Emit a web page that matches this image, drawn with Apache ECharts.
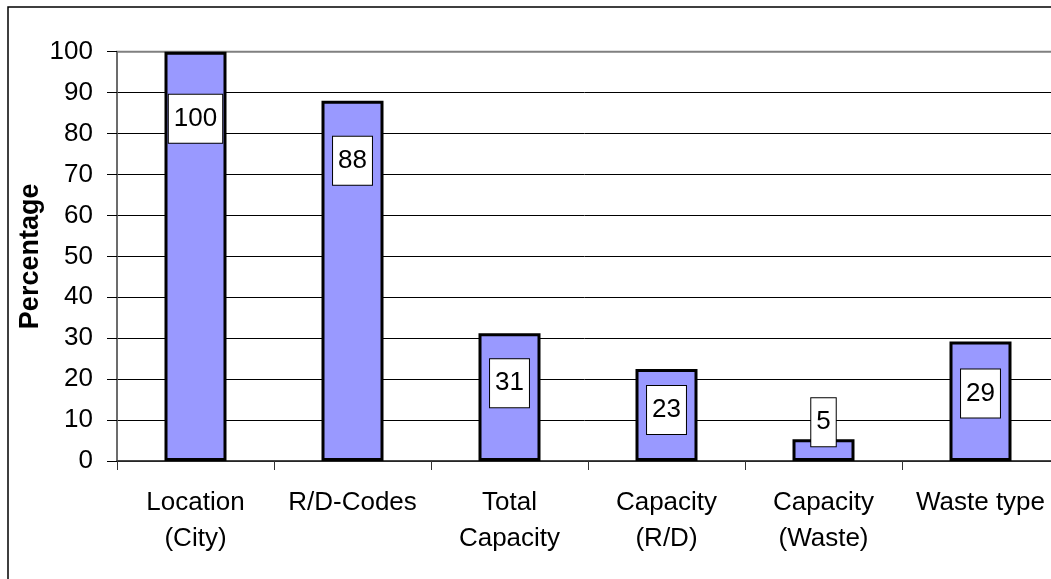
<!DOCTYPE html>
<html>
<head>
<meta charset="utf-8">
<script src="https://cdn.jsdelivr.net/npm/echarts@6/dist/echarts.min.js"></script>
<style>
html,body{margin:0;padding:0;background:#fff;}
#chart{width:1051px;height:579px;}
</style>
</head>
<body>
<div id="chart"></div>
<script>
var categories = ['Location\n(City)', 'R/D-Codes', 'Total\nCapacity', 'Capacity\n(R/D)', 'Capacity\n(Waste)', 'Waste type'];
var values = [100, 88, 31.2, 22.5, 5.3, 29.2];
var labelTexts = ['100', '88', '31', '23', '5', '29'];
var yTicks = [0, 10, 20, 30, 40, 50, 60, 70, 80, 90, 100];

// label placement (style only): distance of label box top below bar top
var labelDistance = [43, 36, 26, 17, -41, 28];

var FONT = '"Liberation Sans", Arial, sans-serif';
var chart = echarts.init(document.getElementById('chart'), null, {renderer: 'canvas'});

var data = values.map(function (v, i) {
  return {
    value: v,
    label: {
      position: 'insideTop',
      distance: labelDistance[i],
      formatter: labelTexts[i]
    }
  };
});

chart.setOption({
  animation: false,
  backgroundColor: '#fff',
  grid: {
    left: 117, right: -8, top: 51.7, bottom: 118,
    outerBoundsMode: 'none',
    show: true, borderColor: '#808080', borderWidth: 2, backgroundColor: 'transparent',
    containLabel: false
  },
  graphic: [{
    type: 'rect',
    shape: {x: 8, y: 7, width: 1200, height: 800},
    style: {fill: 'none', stroke: '#000', lineWidth: 1.5},
    z: 100
  }],
  xAxis: {
    type: 'category',
    data: categories,
    boundaryGap: true,
    axisLine: {show: true, lineStyle: {color: '#333', width: 1.5}},
    axisTick: {show: true, alignWithLabel: false, length: 9, lineStyle: {color: '#333', width: 1}},
    axisLabel: {
      color: '#000', fontFamily: FONT, fontSize: 26, lineHeight: 36,
      margin: 24, interval: 0, verticalAlign: 'top'
    },
    splitLine: {show: false}
  },
  yAxis: {
    type: 'value',
    min: yTicks[0], max: yTicks[yTicks.length - 1], interval: 10,
    name: 'Percentage',
    nameLocation: 'middle',
    nameGap: 73,
    nameMoveOverlap: false,
    nameRotate: 90,
    nameTextStyle: {color: '#000', fontFamily: FONT, fontSize: 27, fontWeight: 'bold'},
    axisLine: {show: true, lineStyle: {color: '#666', width: 1.5}},
    axisTick: {show: true, inside: false, length: 10, lineStyle: {color: '#000', width: 1}},
    axisLabel: {color: '#000', fontFamily: FONT, fontSize: 26, margin: 24},
    splitLine: {show: true, showMaxLine: false, lineStyle: {color: '#000', width: 1}}
  },
  series: [{
    type: 'bar',
    data: data,
    barWidth: 62,
    itemStyle: {color: '#9999FF', borderColor: '#000', borderWidth: 3},
    label: {
      show: true,
      color: '#000',
      fontFamily: FONT,
      fontSize: 26,
      backgroundColor: '#fff',
      borderColor: '#000',
      borderWidth: 1,
      padding: [11, 5, 11, 5]
    }
  }]
});
</script>
</body>
</html>
